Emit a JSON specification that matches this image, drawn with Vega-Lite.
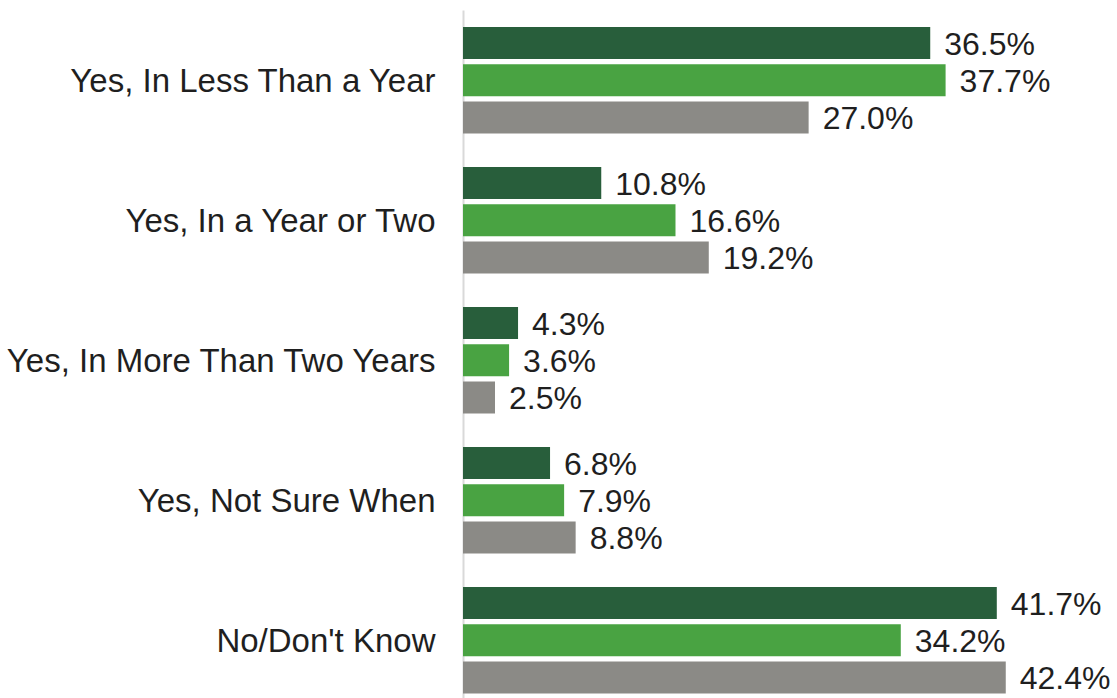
{
  "$schema": "https://vega.github.io/schema/vega-lite/v6.json",
  "autosize": {"type": "none"},
  "padding": {"left": 463, "top": 10, "right": 0, "bottom": 0},
  "width": 654,
  "height": 688,
  "background": "white",
  "config": {"view": {"stroke": null}, "font": "Liberation Sans"},
  "data": {
    "values": [
      {"category": "Yes, In Less Than a Year", "series": "Series 1", "value": 0.365},
      {"category": "Yes, In Less Than a Year", "series": "Series 2", "value": 0.377},
      {"category": "Yes, In Less Than a Year", "series": "Series 3", "value": 0.270},
      {"category": "Yes, In a Year or Two", "series": "Series 1", "value": 0.108},
      {"category": "Yes, In a Year or Two", "series": "Series 2", "value": 0.166},
      {"category": "Yes, In a Year or Two", "series": "Series 3", "value": 0.192},
      {"category": "Yes, In More Than Two Years", "series": "Series 1", "value": 0.043},
      {"category": "Yes, In More Than Two Years", "series": "Series 2", "value": 0.036},
      {"category": "Yes, In More Than Two Years", "series": "Series 3", "value": 0.025},
      {"category": "Yes, Not Sure When", "series": "Series 1", "value": 0.068},
      {"category": "Yes, Not Sure When", "series": "Series 2", "value": 0.079},
      {"category": "Yes, Not Sure When", "series": "Series 3", "value": 0.088},
      {"category": "No/Don't Know", "series": "Series 1", "value": 0.417},
      {"category": "No/Don't Know", "series": "Series 2", "value": 0.342},
      {"category": "No/Don't Know", "series": "Series 3", "value": 0.424}
    ]
  },
  "encoding": {
    "y": {
      "field": "category",
      "type": "nominal",
      "sort": null,
      "scale": {"paddingInner": 0.24, "paddingOuter": 0.077, "align": 0.79},
      "axis": {
        "title": null,
        "ticks": false,
        "labelPadding": 28,
        "labelOffset": 2,
        "labelFontSize": 33,
        "labelColor": "#1f1f1f",
        "labelLimit": 500,
        "domainColor": "#d9d9d9",
        "domainWidth": 2,
        "grid": false
      }
    },
    "yOffset": {
      "field": "series",
      "type": "nominal",
      "scale": {"paddingInner": 0.14, "paddingOuter": 0}
    },
    "x": {
      "field": "value",
      "type": "quantitative",
      "scale": {"domain": [0, 0.5109], "nice": false},
      "axis": null
    }
  },
  "layer": [
    {
      "mark": {"type": "bar"},
      "encoding": {
        "color": {
          "field": "series",
          "type": "nominal",
          "scale": {"domain": ["Series 1", "Series 2", "Series 3"], "range": ["#285e3b", "#49a342", "#8b8a86"]},
          "legend": null
        }
      }
    },
    {
      "mark": {"type": "text", "align": "left", "baseline": "middle", "dx": 14, "dy": 2, "fontSize": 32, "color": "#1f1f1f"},
      "encoding": {
        "text": {"field": "value", "type": "quantitative", "format": ".1%"}
      }
    }
  ]
}
